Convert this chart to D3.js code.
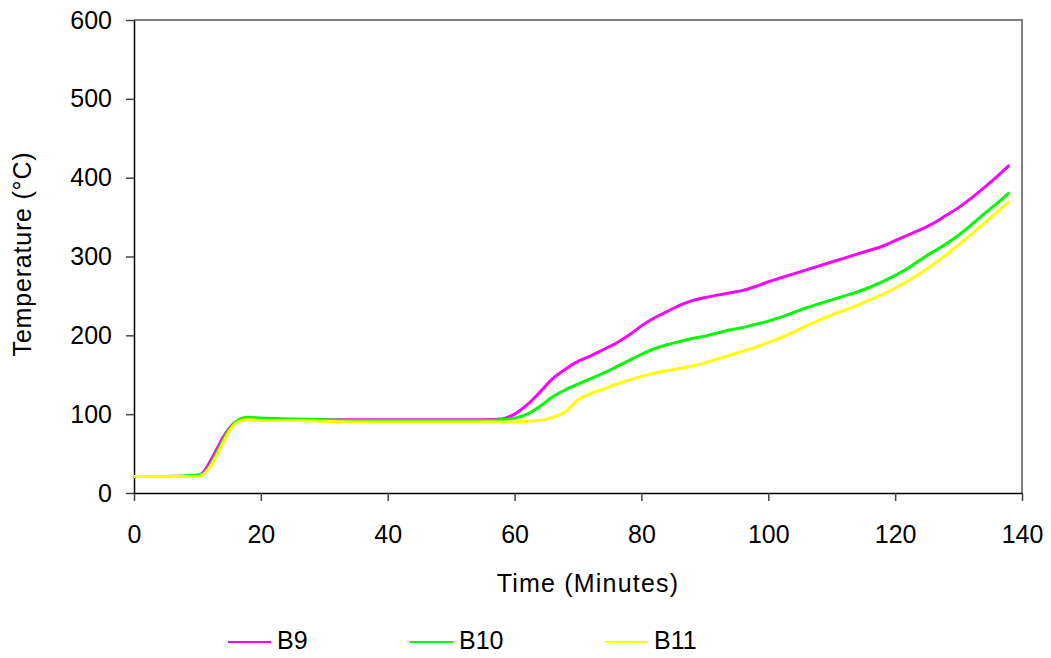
<!DOCTYPE html>
<html>
<head>
<meta charset="utf-8">
<script src="https://cdn.jsdelivr.net/npm/d3@7"></script>
<style>
  body { margin: 0; background: #fff; }
  text { font-family: "Liberation Sans", Arial, sans-serif; fill: #000; }
</style>
</head>
<body>
<svg width="1051" height="658"></svg>
<script>
// time axis (minutes)
var times = [0, 5, 10, 11, 12, 13, 14, 15, 16, 17, 18, 20, 25, 30, 35, 40, 45, 50, 55, 58,
  60, 62, 64, 66, 68, 70, 72, 74, 76, 78, 80, 82, 84, 86, 88, 90, 92, 94, 96, 98,
  100, 102, 104, 106, 108, 110, 112, 114, 116, 118, 120, 122, 124, 126, 128, 130, 132, 134, 136, 138];

var b9 = [21, 21, 22, 27, 40, 55, 70, 82, 90, 93, 93, 93, 93, 93, 93, 93, 93, 93, 93, 94,
  100, 112, 128, 145, 157, 167, 174, 182, 190, 200, 212, 222, 230, 238, 244, 248, 251, 254, 257, 262,
  268, 273, 278, 283, 288, 293, 298, 303, 308, 313, 320, 327, 334, 342, 352, 362, 374, 387, 401, 416];

var b10 = [21, 21, 23, 25, 35, 50, 66, 80, 90, 95, 96, 95, 94, 93, 92, 92, 92, 92, 92, 93,
  95, 100, 110, 122, 131, 138, 145, 152, 160, 168, 176, 183, 188, 192, 196, 199, 203, 207, 210, 214,
  218, 223, 229, 235, 240, 245, 250, 255, 261, 268, 276, 285, 296, 306, 316, 327, 340, 354, 367, 381];

var b11 = [21, 21, 21, 24, 33, 47, 63, 78, 88, 92, 93, 92, 92, 91, 90, 90, 90, 90, 90, 90,
  90, 91, 92, 96, 103, 118, 126, 132, 138, 143, 148, 152, 155, 158, 161, 165, 170, 175, 180, 185,
  191, 197, 204, 212, 219, 226, 232, 238, 245, 252, 260, 269, 279, 290, 302, 315, 328, 342, 356, 370];

var seriesNames = ["B9", "B10", "B11"];
var seriesColors = ["#ff00ff", "#00ff00", "#ffff00"];
var xTicks = [0, 20, 40, 60, 80, 100, 120, 140];
var yTicks = [0, 100, 200, 300, 400, 500, 600];

var svg = d3.select("svg");
var pLeft = 134, pRight = 1022, pTop = 20, pBottom = 493;

var x = d3.scaleLinear().domain([0, 140]).range([pLeft, pRight]);
var y = d3.scaleLinear().domain([0, 600]).range([pBottom, pTop]);

// frame top / right
svg.append("path")
  .attr("d", "M" + pLeft + "," + pTop + "H" + pRight + "V" + pBottom)
  .attr("fill", "none").attr("stroke", "#808080").attr("stroke-width", 2);

var xAxis = svg.append("g")
  .attr("transform", "translate(0," + pBottom + ")")
  .call(d3.axisBottom(x).tickValues(xTicks).tickSizeInner(8).tickSizeOuter(0).tickPadding(24));
var yAxis = svg.append("g")
  .attr("transform", "translate(" + pLeft + ",0)")
  .call(d3.axisLeft(y).tickValues(yTicks).tickSizeInner(8).tickSizeOuter(0).tickPadding(14));

[xAxis, yAxis].forEach(function(a) {
  a.select(".domain").attr("stroke", "#000").attr("stroke-width", 1.5);
  a.selectAll(".tick line").attr("stroke", "#444").attr("stroke-width", 1.5);
  a.selectAll(".tick text").style("font-size", "25px").style("font-family", "Liberation Sans, Arial, sans-serif");
});
xAxis.selectAll(".tick text").attr("dy", "0.71em");

var allSeries = [b9, b10, b11];
var line = d3.line()
  .x(function(d) { return x(d[0]); })
  .y(function(d) { return y(d[1]); })
  .curve(d3.curveMonotoneX);

allSeries.forEach(function(s, i) {
  var pts = times.map(function(t, j) { return [t, s[j]]; });
  svg.append("path")
    .datum(pts)
    .attr("d", line)
    .attr("fill", "none")
    .attr("stroke", seriesColors[i])
    .attr("stroke-width", 3);
});

// axis titles
svg.append("text")
  .attr("x", 588).attr("y", 592)
  .attr("text-anchor", "middle")
  .style("font-size", "25px")
  .style("letter-spacing", "1.2px")
  .text("Time (Minutes)");

svg.append("text")
  .attr("transform", "translate(31,254) rotate(-90)")
  .attr("text-anchor", "middle")
  .style("font-size", "25px")
  .style("letter-spacing", "0.8px")
  .text("Temperature (\u00b0C)");

// legend
var legX = [228, 410, 605];
seriesNames.forEach(function(n, i) {
  svg.append("line")
    .attr("x1", legX[i]).attr("x2", legX[i] + 43)
    .attr("y1", 642).attr("y2", 642)
    .attr("stroke", seriesColors[i]).attr("stroke-width", 2);
  svg.append("text")
    .attr("x", legX[i] + 49).attr("y", 649)
    .style("font-size", "25px")
    .text(n);
});
</script>
</body>
</html>
